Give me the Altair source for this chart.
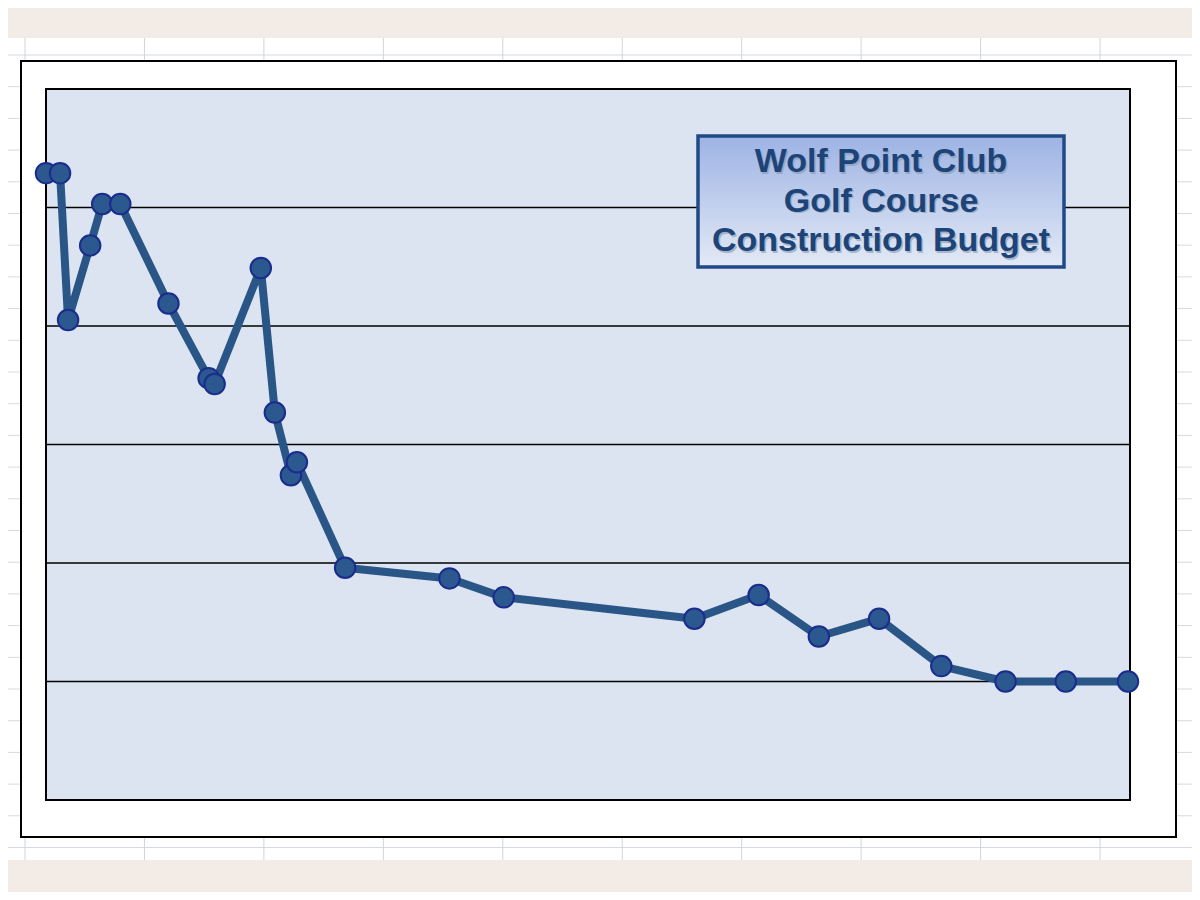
import altair as alt
import pandas as pd

# ---- data (x: days since start, y: budget units) ----
days = [0, 7, 11, 22, 28, 37, 61, 81, 84, 107, 114, 122, 125, 149, 201, 228,
        323, 355, 385, 415, 446, 478, 508, 539]
budget = [5.29, 5.29, 4.05, 4.68, 5.03, 5.03, 4.19, 3.56, 3.51, 4.49, 3.27,
          2.74, 2.85, 1.96, 1.87, 1.71, 1.53, 1.73, 1.38, 1.53, 1.13, 1.00,
          1.00, 1.00]
grid_levels = [1, 2, 3, 4, 5]
title_lines = ["Wolf Point Club", "Golf Course", "Construction Budget"]

df = pd.DataFrame({"day": days, "budget": budget})
grid_df = pd.DataFrame({"level": grid_levels})

W, H = 1084, 711
one = alt.Data(values=[{}])

xs = alt.Scale(domain=[0, 540], nice=False, zero=False)
ys = alt.Scale(domain=[0, 6], nice=False)


def box(x, x2, y, y2, **kw):
    return alt.Chart(one).mark_rect(**kw).encode(
        x=alt.value(x), x2=alt.value(x2), y=alt.value(y), y2=alt.value(y2))


layers = []
# spreadsheet sheet behind the chart
layers.append(box(-38, 1146, -51, 771, color="white"))
for k in range(26):
    yy = 55 + 31.7 * k - 89
    layers.append(alt.Chart(one).mark_rule(color="#d5dae0", strokeWidth=1).encode(
        x=alt.value(-38), x2=alt.value(1146), y=alt.value(yy)))
for k in range(10):
    xx = 25 + 119.45 * k - 46
    layers.append(alt.Chart(one).mark_rule(color="#d0d4da", strokeWidth=1).encode(
        x=alt.value(xx), y=alt.value(-51), y2=alt.value(771)))

# chart area (white with black frame)
layers.append(box(-25, 1130, -28, 748, fill="white", stroke="black", strokeWidth=2))
# plot area
layers.append(box(0, W, 0, H, fill="#dce4f1", stroke="black", strokeWidth=2))

# horizontal gridlines through the y scale
layers.append(alt.Chart(grid_df).mark_rule(color="black", strokeWidth=1.6).encode(
    y=alt.Y("level:Q", scale=ys, axis=None),
    x=alt.value(0), x2=alt.value(W)))

base = alt.Chart(df).encode(
    x=alt.X("day:Q", scale=xs, axis=None),
    y=alt.Y("budget:Q", scale=ys, axis=None),
)
layers.append(base.mark_line(color="#2a5587", strokeWidth=8, strokeJoin="round"))
layers.append(base.mark_point(filled=True, size=420, fill="#2c5890", opacity=1,
                              stroke="#1a2c8c", strokeWidth=2))

# title box
grad = alt.Gradient(gradient="linear",
                    stops=[alt.GradientStop(color="#9db3e4", offset=0),
                           alt.GradientStop(color="#e3eaf6", offset=1)],
                    x1=0, x2=0, y1=0, y2=1)
layers.append(box(652, 1018, 47, 178, fill=grad, stroke="#1f4a86", strokeWidth=3.5))
for i, line in enumerate(title_lines):
    src = alt.Data(values=[{"t": line}])
    layers.append(alt.Chart(src).mark_text(
        font="Liberation Sans", fontWeight="bold", fontSize=34, color="#8a96aa",
        opacity=0.6, align="center", baseline="middle", dx=1.5, dy=1.5).encode(
        text="t:N", x=alt.value(835), y=alt.value(73 + 39.5 * i)))
    layers.append(alt.Chart(src).mark_text(
        font="Liberation Sans", fontWeight="bold", fontSize=34, color="#1c4479",
        align="center", baseline="middle").encode(
        text="t:N", x=alt.value(835), y=alt.value(73 + 39.5 * i)))

chart = alt.layer(*layers).properties(
    width=W, height=H,
    padding={"left": 38, "top": 81, "right": 62, "bottom": 92},
    autosize=alt.AutoSizeParams(type="none"),
    background="#f3ebe5",
).configure_view(strokeWidth=0)

chart.save("out.html", embed_options={"renderer": "svg", "actions": False})
